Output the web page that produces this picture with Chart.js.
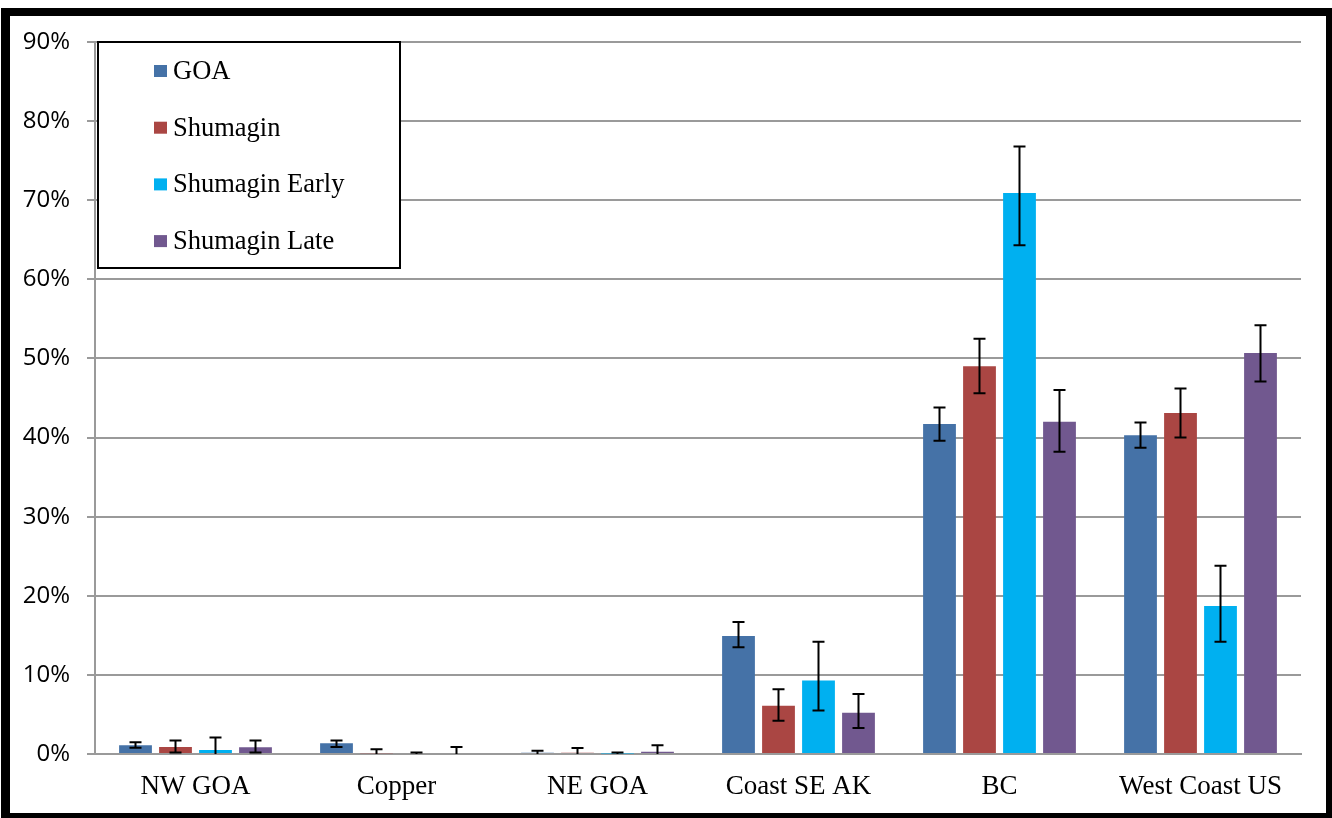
<!DOCTYPE html>
<html>
<head>
<meta charset="utf-8">
<script src="https://cdn.jsdelivr.net/npm/chart.js@4.4.1/dist/chart.umd.min.js"></script>
<style>
	html, body { margin: 0; padding: 0; background: #fff; }
	#wrap { position: relative; width: 1332px; height: 818px; }
	#chart { position: absolute; left: 0; top: 0; }
	#frame {
		position: absolute; left: 1px; top: 8px; width: 1331px; height: 810px;
		box-sizing: border-box; border-style: solid; border-color: #000;
		border-width: 8px 6px 5px 9px; pointer-events: none;
	}
</style>
</head>
<body>
<div id="wrap">
	<canvas id="chart" width="1332" height="818"></canvas>
	<div id="frame"></div>
</div>
<script>
( function () {
	'use strict';

	// ── Data (percent) ───────────────────────────────────────────────────
	const REGIONS = [ 'NW GOA', 'Copper', 'NE GOA', 'Coast SE AK', 'BC', 'West Coast US' ];
	const SERIES  = [ 'GOA', 'Shumagin', 'Shumagin Early', 'Shumagin Late' ];
	const COLORS  = [ '#4572a7', '#aa4643', '#00b0f0', '#71588f' ];
	const Y_TICKS = [ 0, 10, 20, 30, 40, 50, 60, 70, 80, 90 ];

	const goa      = [ 1.1, 1.35, 0.15, 14.9, 41.7, 40.3 ];
	const goaLo    = [ 0.8, 0.9, 0.0, 13.5, 39.6, 38.7 ];
	const goaHi    = [ 1.5, 1.7, 0.4, 16.7, 43.8, 41.9 ];

	const shum     = [ 0.9, 0.1, 0.17, 6.1, 49.0, 43.1 ];
	const shumLo   = [ 0.2, 0.0, 0.0, 4.2, 45.6, 40.0 ];
	const shumHi   = [ 1.7, 0.6, 0.75, 8.2, 52.5, 46.2 ];

	const early    = [ 0.5, 0.0, 0.05, 9.3, 70.9, 18.7 ];
	const earlyLo  = [ 0.0, 0.0, 0.0, 5.5, 64.3, 14.2 ];
	const earlyHi  = [ 2.1, 0.2, 0.2, 14.2, 76.8, 23.8 ];

	const late     = [ 0.85, 0.12, 0.3, 5.2, 42.0, 50.7 ];
	const lateLo   = [ 0.2, 0.0, 0.0, 3.3, 38.2, 47.1 ];
	const lateHi   = [ 1.7, 0.9, 1.1, 7.6, 46.0, 54.2 ];

	const VALUES = [ goa, shum, early, late ];
	const LOWS   = [ goaLo, shumLo, earlyLo, lateLo ];
	const HIGHS  = [ goaHi, shumHi, earlyHi, lateHi ];

	const GRID  = '#9a9a9a';
	const SERIF = '"Liberation Serif", "Times New Roman", serif';

	// ── Plugins ──────────────────────────────────────────────────────────

	// Black whiskers with caps, drawn from each bar's own x and the y scale
	const errorBars = {
		id: 'errorBars',
		afterDatasetsDraw: function ( chart ) {
			var ctx = chart.ctx;
			var y = chart.scales.y;
			ctx.save();
			ctx.strokeStyle = '#000';
			ctx.lineWidth = 2;
			chart.data.datasets.forEach( function ( ds, i ) {
				chart.getDatasetMeta( i ).data.forEach( function ( bar, j ) {
					var x  = bar.x;
					var yl = y.getPixelForValue( ds.errLo[ j ] );
					var yh = y.getPixelForValue( ds.errHi[ j ] );
					ctx.beginPath();
					ctx.moveTo( x, yl ); ctx.lineTo( x, yh );
					ctx.moveTo( x - 6, yh ); ctx.lineTo( x + 6, yh );
					if ( ds.errLo[ j ] > 0 ) {
						ctx.moveTo( x - 6, yl ); ctx.lineTo( x + 6, yl );
					}
					ctx.stroke();
				} );
			} );
			ctx.restore();
		},
	};

	// Boxed legend sitting inside the plot, top left
	const boxLegend = {
		id: 'boxLegend',
		afterDraw: function ( chart ) {
			var ctx = chart.ctx;
			var a = chart.chartArea;
			var left = a.left + 3, top = a.top, w = 302, h = 226;
			ctx.save();
			ctx.fillStyle = '#fff';
			ctx.fillRect( left, top, w, h );
			ctx.strokeStyle = '#000';
			ctx.lineWidth = 2;
			ctx.strokeRect( left, top, w, h );
			ctx.font = '26.5px ' + SERIF;
			ctx.textBaseline = 'middle';
			chart.data.datasets.forEach( function ( ds, i ) {
				var cy = top + 29 + i * 56.7;
				ctx.fillStyle = ds.backgroundColor;
				ctx.fillRect( left + 56, cy - 6, 13, 12 );
				ctx.fillStyle = '#000';
				ctx.fillText( ds.label, left + 75, cy + 1 );
			} );
			ctx.restore();
		},
	};

	// ── Chart ────────────────────────────────────────────────────────────

	new Chart( document.getElementById( 'chart' ).getContext( '2d' ), {
		type: 'bar',
		data: {
			labels: REGIONS,
			datasets: SERIES.map( function ( name, i ) {
				return {
					label: name,
					data: VALUES[ i ],
					errLo: LOWS[ i ],
					errHi: HIGHS[ i ],
					backgroundColor: COLORS[ i ],
					borderWidth: 0,
					categoryPercentage: 0.796,
					barPercentage: 0.82,
				};
			} ),
		},
		options: {
			responsive: false,
			animation: false,
			layout: { padding: { left: 0, top: 42, right: 31, bottom: 0 } },
			plugins: {
				legend: { display: false },
				tooltip: { enabled: false },
			},
			scales: {
				x: {
					afterFit: function ( s ) { s.height = 64; },
					grid: { display: false, drawTicks: false },
					border: { display: true, color: GRID, width: 2 },
					ticks: {
						padding: 17,
						color: '#000',
						font: { family: SERIF, size: 27 },
					},
				},
				y: {
					min: 0,
					max: 90,
					afterFit: function ( s ) { s.width = 95; },
					afterBuildTicks: function ( s ) {
						s.ticks = Y_TICKS.map( function ( v ) { return { value: v }; } );
					},
					grid: { color: GRID, lineWidth: 2, tickLength: 8, drawTicks: true },
					border: { display: true, color: GRID, width: 2 },
					ticks: {
						padding: 17,
						color: '#000',
						font: { family: '"Open Sans", sans-serif', size: 24 },
						callback: function ( v ) { return v + '%'; },
					},
				},
			},
		},
		plugins: [ errorBars, boxLegend ],
	} );
} )();
</script>
</body>
</html>
